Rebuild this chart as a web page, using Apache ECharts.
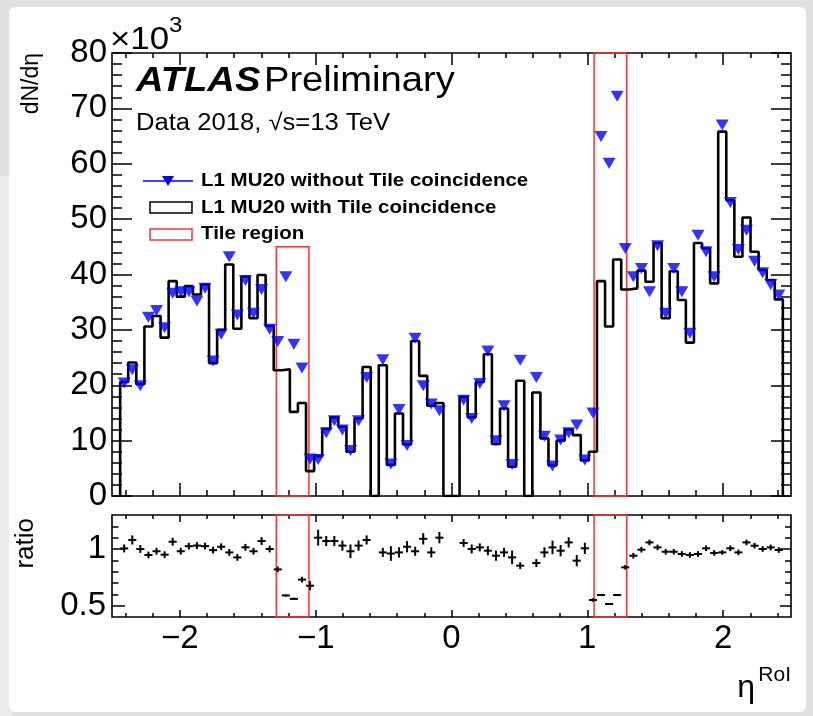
<!DOCTYPE html>
<html><head><meta charset="utf-8">
<script src="https://cdn.jsdelivr.net/npm/echarts@6/dist/echarts.min.js"></script>
<style>html,body{margin:0;padding:0;background:#e2e2e2}#c{width:813px;height:716px}</style>
</head><body><div id="c"></div>
<script>
// ---------------- data ----------------
const etaLow = -2.44, etaHigh = 2.44, nBins = 82;
// L1 MU20 with Tile coincidence (x10^3), black histogram
const withTile = [20.6, 24.1, 20.2, 30.6, 32.5, 28.6, 38.8, 36.0, 37.9, 36.4,
 38.2, 24.0, 30.0, 41.8, 30.2, 39.6, 32.1, 39.9, 30.7, 22.7,
 22.9, 15.2, 16.8, 4.5, 7.2, 12.1, 14.2, 12.5, 8.0, 14.0,
 23.3, 0, 23.6, 5.6, 14.9, 9.3, 28.0, 21.7, 16.3, 16.8,
 0, 0, 17.9, 14.2, 20.6, 25.6, 9.4, 15.8, 5.3, 20.8,
 0, 18.7, 10.4, 5.5, 10.0, 12.0, 11.0, 6.4, 8.0, 38.8,
 30.6, 42.7, 37.3, 37.5, 40.7, 38.7, 45.7, 32.1, 40.6, 35.4,
 27.7, 45.7, 44.7, 38.4, 65.8, 53.4, 43.2, 50.3, 44.1, 40.8,
 39.0, 35.5];
// L1 MU20 without Tile coincidence (x10^3), blue triangles
const withoutTile = [20.4, 22.8, 19.9, 32.3, 33.5, 30.4, 36.6, 36.9, 36.9, 35.2,
 37.5, 24.4, 29.2, 43.2, 32.7, 38.9, 33.0, 37.3, 30.1, 27.9,
 39.6, 27.4, 23.1, 6.7, 6.6, 11.4, 13.6, 11.9, 8.2, 13.6,
 21.4, null, 24.6, 5.8, 15.6, 9.1, 28.5, 19.9, 16.6, 15.4,
 null, null, 17.3, 14.0, 20.3, 26.2, 10.0, 16.3, 5.7, 24.5,
 null, 21.4, 10.8, 5.4, 10.1, 11.4, 12.8, 6.5, 15.0, 64.9,
 60.1, 72.2, 44.7, 39.6, 41.1, 36.9, 45.2, 33.0, 41.1, 36.9,
 29.4, 47.1, 44.1, 39.6, 67.0, 53.0, 44.5, 48.0, 42.4, 40.3,
 38.2, 36.3];
// ratio panel
const ratio = [1.005, 1.08, 1.0, 0.947, 0.98, 0.95, 1.064, 0.98, 1.025, 1.03,
 1.025, 0.99, 1.02, 0.97, 0.926, 1.015, 0.98, 1.07, 1.0, 0.82,
 0.59, 0.56, 0.73, 0.676, 1.10, 1.07, 1.07, 1.03, 0.98, 1.03,
 1.08, null, 0.97, 0.96, 0.97, 1.02, 0.98, 1.09, 0.97, 1.10,
 null, null, 1.053, 1.0, 1.014, 0.985, 0.941, 0.97, 0.926, 0.853,
 null, 0.876, 0.97, 1.014, 0.985, 1.058, 0.897, 1.006, 0.55, 0.594,
 0.515, 0.594, 0.838, 0.941, 0.994, 1.058, 1.014, 0.976, 0.976, 0.956,
 0.947, 0.956, 1.006, 0.965, 0.97, 1.006, 0.97, 1.058, 1.029, 1.0,
 1.014, 0.991];
const ratioErr = [0.035, 0.04, 0.035, 0.03, 0.03, 0.03, 0.035, 0.03, 0.03, 0.03,
 0.03, 0.03, 0.03, 0.03, 0.03, 0.03, 0.03, 0.035, 0.03, 0.025,
 0.01, 0.01, 0.025, 0.04, 0.07, 0.045, 0.045, 0.045, 0.06, 0.045,
 0.04, null, 0.04, 0.065, 0.045, 0.05, 0.04, 0.05, 0.045, 0.05,
 null, null, 0.035, 0.04, 0.035, 0.04, 0.045, 0.04, 0.06, 0.03,
 null, 0.035, 0.045, 0.06, 0.05, 0.045, 0.05, 0.05, 0.015, 0.008,
 0.008, 0.008, 0.02, 0.025, 0.025, 0.025, 0.025, 0.025, 0.025, 0.025,
 0.025, 0.025, 0.025, 0.025, 0.02, 0.025, 0.025, 0.025, 0.025, 0.025,
 0.025, 0.025];
// Tile regions: [eta from, eta to, top of box in main panel (x10^3)]
const tileRegions = [[-1.29, -1.05, 45], [1.05, 1.29, 80]];
// ticks
const xMajorTicks = [-2, -1, 0, 1, 2];
const xTickLabels = ['\u22122', '\u22121', '0', '1', '2'];
const ratioMajorTicks = [0.5, 1.0];
const ratioTickLabels = ['0.5', '1'];
const ratioMinorTicks = [0.6, 0.7, 0.8, 0.9, 1.1, 1.2];
const xMinorTicks = [];
for (let k = -12; k <= 12; k++) { if (k % 5 !== 0) xMinorTicks.push(+(k * 0.2).toFixed(1)); }

// ---------------- derived structures ----------------
const binW = (etaHigh - etaLow) / nBins;
const edges = []; for (let i = 0; i <= nBins; i++) edges.push(etaLow + i * binW);
const centers = edges.slice(0, nBins).map(e => e + binW / 2);
const histPts = [[edges[0], 0]];
withTile.forEach((v, i) => histPts.push([edges[i], v]));
histPts.push([edges[nBins], withTile[nBins - 1]]);
histPts.push([edges[nBins], 0]);
const triPts = [];
withoutTile.forEach((v, i) => { if (v !== null) triPts.push([centers[i], v]); });
const ratioPts = [];
ratio.forEach((r, i) => { if (r !== null) ratioPts.push([centers[i], r, ratioErr[i]]); });

const FONT = "'Liberation Sans', Arial, Helvetica, sans-serif";
const GL = 112, GW = 679;
const TICK = {color: '#000', width: 1.5};

function xAx(grid, pos, ticks, len, labels) {
  return {
    type: 'value', gridIndex: grid, position: pos, min: -2.5, max: 2.5,
    axisLine: {show: false, onZero: false}, splitLine: {show: false},
    axisTick: {show: true, inside: true, length: len, customValues: ticks, lineStyle: TICK},
    axisLabel: labels ? {show: true, customValues: ticks, margin: 5, color: '#000', fontSize: 33, fontFamily: FONT,
      formatter: v => xTickLabels[xMajorTicks.indexOf(v)]} : {show: false}
  };
}
function yRatio(pos, ticks, len, labels) {
  return {
    type: 'value', gridIndex: 1, position: pos, min: 0.4, max: 1.3,
    axisLine: {show: false, onZero: false}, splitLine: {show: false},
    axisTick: {show: true, inside: true, length: len, customValues: ticks, lineStyle: TICK},
    axisLabel: labels ? {show: true, customValues: ticks, margin: 6, color: '#000', fontSize: 33, fontFamily: FONT,
      formatter: v => ratioTickLabels[ratioMajorTicks.indexOf(v)]} : {show: false}
  };
}
function yMain(pos, labels) {
  return {
    type: 'value', gridIndex: 0, position: pos, min: 0, max: 80, interval: 10,
    axisLine: {show: false, onZero: false}, splitLine: {show: false},
    axisTick: {show: true, inside: true, length: 20, lineStyle: TICK},
    minorTick: {show: true, splitNumber: 5, length: 10, lineStyle: TICK},
    axisLabel: labels ? {show: true, margin: 5, color: '#000', fontSize: 33, fontFamily: FONT,
      showMinLabel: true, showMaxLabel: true} : {show: false}
  };
}
function txt(x, y, text, font, rich) {
  const style = {text: text, fill: '#000', textAlign: 'left', textVerticalAlign: 'middle'};
  if (font) style.font = font;
  if (rich) style.rich = rich;
  return {type: 'text', x: x, y: y, scaleX: 1.09, style: style};
}

const chart = echarts.init(document.getElementById('c'), null, {renderer: 'canvas', width: 813, height: 716});
chart.setOption({
  animation: false,
  backgroundColor: 'transparent',
  grid: [
    {left: GL, top: 53, width: GW, height: 443, show: true, borderColor: '#000', borderWidth: 1.6, backgroundColor: 'transparent'},
    {left: GL, top: 515, width: GW, height: 102, show: true, borderColor: '#000', borderWidth: 1.6, backgroundColor: 'transparent'}
  ],
  xAxis: [
    xAx(0, 'bottom', xMajorTicks, 13, false),
    xAx(0, 'bottom', xMinorTicks, 6, false),
    xAx(0, 'top', xMajorTicks, 12, false),
    xAx(0, 'top', xMinorTicks, 5, false),
    xAx(1, 'bottom', xMajorTicks, 7, true),
    xAx(1, 'bottom', xMinorTicks, 4, false),
    xAx(1, 'top', xMajorTicks, 7, false),
    xAx(1, 'top', xMinorTicks, 4, false)
  ],
  yAxis: [
    yMain('left', true),
    yMain('right', false),
    yRatio('left', ratioMajorTicks, 13, true),
    yRatio('left', ratioMinorTicks, 6.5, false),
    yRatio('right', ratioMajorTicks, 11, false),
    yRatio('right', ratioMinorTicks, 6, false)
  ],
  graphic: [
    {type: 'rect', z: -10, shape: {x: 0, y: 0, width: 813, height: 716}, style: {fill: '#e0e0e0'}},
    {type: 'rect', z: -10, shape: {x: 0, y: 176, width: 12, height: 540}, style: {fill: '#ececec'}},
    {type: 'rect', z: -9, shape: {x: 9, y: 7, width: 797, height: 705, r: 6}, style: {fill: '#ffffff'}},
    txt(110, 40, '\u00d710', '32px ' + FONT),
    txt(169, 26, '3', '22px ' + FONT),
    {type: 'text', x: 32, y: 53, rotation: Math.PI / 2, style: {text: 'dN/d\u03b7', font: '23px ' + FONT, fill: '#000', textAlign: 'right', textVerticalAlign: 'middle'}},
    {type: 'text', x: 26, y: 518, rotation: Math.PI / 2, style: {text: 'ratio', font: '26px ' + FONT, fill: '#000', textAlign: 'right', textVerticalAlign: 'middle'}},
    txt(136, 81, '{a|ATLAS} {b|Preliminary}', null, {
      a: {font: 'italic bold 35px ' + FONT, fill: '#000'},
      b: {font: '35px ' + FONT, fill: '#000'}
    }),
    txt(136, 124, 'Data 2018, \u221as=13 TeV', '23.5px ' + FONT),
    // legend
    {type: 'line', shape: {x1: 143, y1: 181, x2: 193, y2: 181}, style: {stroke: '#0000ff', lineWidth: 1.5}},
    {type: 'polygon', shape: {points: [[162, 176], [174, 176], [168, 186]]}, style: {fill: '#0000ff'}},
    txt(201, 181, 'L1 MU20 without Tile coincidence', 'bold 18.8px ' + FONT),
    {type: 'rect', shape: {x: 150, y: 202, width: 42, height: 11}, style: {fill: 'none', stroke: '#000', lineWidth: 1.5}},
    txt(201, 208, 'L1 MU20 with Tile coincidence', 'bold 18.8px ' + FONT),
    {type: 'rect', shape: {x: 150, y: 229, width: 42, height: 11}, style: {fill: 'none', stroke: '#ff3030', lineWidth: 1.5}},
    txt(201, 234, 'Tile region', 'bold 18.8px ' + FONT),
    // x-axis title
    {type: 'text', x: 791, y: 675, style: {text: 'RoI', font: '21px ' + FONT, fill: '#000', textAlign: 'right', textVerticalAlign: 'middle'}},
    {type: 'text', x: 755, y: 688, style: {text: '\u03b7', font: '32px ' + FONT, fill: '#000', textAlign: 'right', textVerticalAlign: 'middle'}}
  ],
  series: [
    {
      name: 'L1 MU20 with Tile coincidence', type: 'line', xAxisIndex: 0, yAxisIndex: 0,
      data: histPts, step: 'end', symbol: 'none', silent: true,
      lineStyle: {color: '#000', width: 2.6}, z: 3,
      markArea: {silent: true, itemStyle: {color: 'rgba(0,0,0,0)', borderColor: '#ff3030', borderWidth: 1.5},
        data: tileRegions.map(r => [{xAxis: r[0], yAxis: 0}, {xAxis: r[1], yAxis: r[2]}])}
    },
    {
      name: 'L1 MU20 without Tile coincidence', type: 'scatter', xAxisIndex: 0, yAxisIndex: 0,
      data: triPts, symbol: 'triangle', symbolRotate: 180, symbolSize: [13, 11],
      itemStyle: {color: '#0000ff'}, z: 4
    },
    {
      name: 'ratio', type: 'custom', xAxisIndex: 4, yAxisIndex: 2, data: ratioPts, z: 4,
      renderItem: function (params, api) {
        const x = api.value(0), y = api.value(1), e = api.value(2);
        const p = api.coord([x, y]);
        const hw = api.size([binW, 0])[0] / 2;
        const t = api.coord([x, y + e]), b = api.coord([x, y - e]);
        return {type: 'group', children: [
          {type: 'line', shape: {x1: p[0] - hw, y1: p[1], x2: p[0] + hw, y2: p[1]}, style: {stroke: '#000', lineWidth: 2}},
          {type: 'line', shape: {x1: p[0], y1: t[1], x2: p[0], y2: b[1]}, style: {stroke: '#000', lineWidth: 2}}
        ]};
      }
    },
    {
      name: 'tile ratio', type: 'line', xAxisIndex: 4, yAxisIndex: 2, data: [], silent: true,
      markArea: {silent: true, itemStyle: {color: 'rgba(0,0,0,0)', borderColor: '#ff3030', borderWidth: 1.5},
        data: tileRegions.map(r => [{xAxis: r[0], yAxis: 0.4}, {xAxis: r[1], yAxis: 1.3}])}
    }
  ]
});
</script></body></html>
